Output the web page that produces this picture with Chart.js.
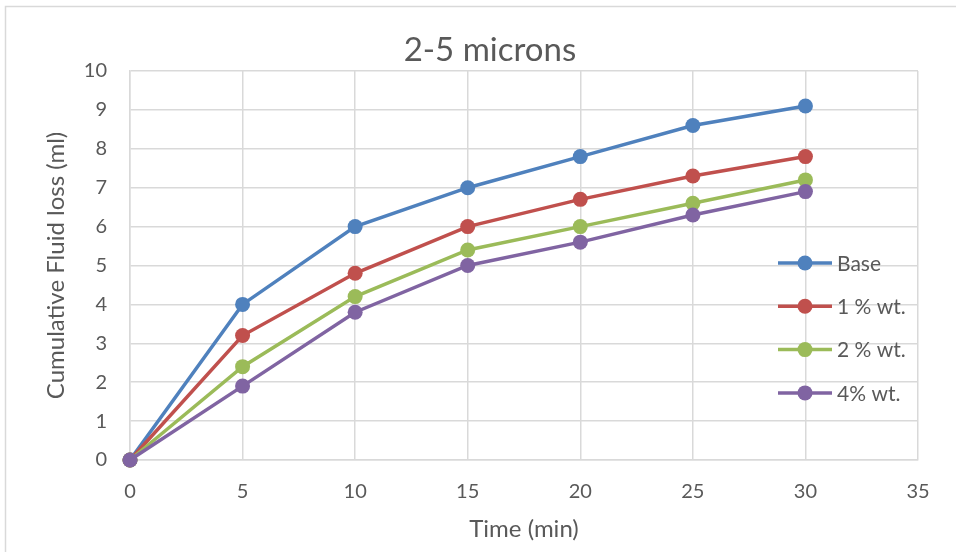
<!DOCTYPE html>
<html>
<head>
<meta charset="utf-8">
<script src="https://cdn.jsdelivr.net/npm/chart.js@4.4.1/dist/chart.umd.min.js"></script>
<style>
  html, body { margin: 0; padding: 0; background: #fff; }
</style>
</head>
<body>
<canvas id="myChart" width="956" height="552"></canvas>
<script>
// data
const times = [0, 5, 10, 15, 20, 25, 30];
const base = [0, 4, 6, 7, 7.8, 8.6, 9.1];
const wt1 = [0, 3.2, 4.8, 6, 6.7, 7.3, 7.8];
const wt2 = [0, 2.4, 4.2, 5.4, 6, 6.6, 7.2];
const wt4 = [0, 1.9, 3.8, 5, 5.6, 6.3, 6.9];
const seriesNames = ['Base', '1 % wt.', '2 % wt.', '4% wt.'];
const seriesColors = ['#4F81BD', '#C0504D', '#9BBB59', '#8064A2'];
const chartTitle = '2-5 microns';

const FONT = 'Lato';
const TEXT = '#595959';
const GRID = '#d9d9d9';

const toPoints = (ys) => ys.map((y, i) => ({ x: times[i], y: y }));

// white background + outer frame
const framePlugin = {
  id: 'frame',
  beforeDraw(chart) {
    const c = chart.ctx;
    c.save();
    c.fillStyle = '#fff';
    c.fillRect(0, 0, chart.width, chart.height);
    c.strokeStyle = GRID;
    c.lineWidth = 1.5;
    c.strokeRect(5.5, 6.5, chart.width + 20, chart.height + 20);
    c.restore();
  }
};

// title centred over the whole Excel chart box (wider than the crop)
const titlePlugin = {
  id: 'excelTitle',
  afterDraw(chart) {
    const c = chart.ctx;
    c.save();
    c.fillStyle = TEXT;
    c.font = '33px ' + FONT;
    c.textAlign = 'center';
    c.textBaseline = 'middle';
    c.fillText(chartTitle, chart.chartArea.left + 360, chart.chartArea.top - 21);
    c.restore();
  }
};

// legend drawn inside the plot, like Excel
const legendPlugin = {
  id: 'insideLegend',
  afterDraw(chart) {
    const c = chart.ctx;
    const area = chart.chartArea;
    const x0 = area.right - 140;
    const y0 = area.top + 192;
    const step = 43.3;
    c.save();
    chart.data.datasets.forEach((ds, i) => {
      const y = y0 + i * step;
      c.strokeStyle = ds.borderColor;
      c.lineWidth = 3.5;
      c.beginPath();
      c.moveTo(x0, y);
      c.lineTo(x0 + 54, y);
      c.stroke();
      c.fillStyle = ds.backgroundColor;
      c.beginPath();
      c.arc(x0 + 27, y, 7.5, 0, Math.PI * 2);
      c.fill();
      c.fillStyle = TEXT;
      c.font = '21px ' + FONT;
      c.textBaseline = 'middle';
      c.textAlign = 'left';
      c.fillText(ds.label, x0 + 59, y + 1);
    });
    c.restore();
  }
};

const allSeries = [base, wt1, wt2, wt4];

const ctx = document.getElementById('myChart').getContext('2d');
const myChart = new Chart(ctx, {
  type: 'line',
  data: {
    datasets: allSeries.map((s, i) => ({
      label: seriesNames[i],
      data: toPoints(s),
      borderColor: seriesColors[i],
      backgroundColor: seriesColors[i],
      borderWidth: 3.5,
      pointRadius: 7.5,
      pointHoverRadius: 7.5,
      pointBorderWidth: 0,
      tension: 0,
      clip: false,
      order: allSeries.length - 1 - i
    }))
  },
  options: {
    responsive: false,
    animation: false,
    layout: {
      padding: { top: 71, left: 40, right: 38, bottom: 0 }
    },
    scales: {
      x: {
        type: 'linear',
        min: 0,
        max: 35,
        ticks: { stepSize: 5, color: TEXT, font: { family: FONT, size: 20 }, padding: 20 },
        grid: { color: GRID, lineWidth: 1.5, drawTicks: false },
        border: { color: GRID, width: 1.5 },
        title: {
          display: true,
          text: 'Time (min)',
          color: TEXT,
          font: { family: FONT, size: 24 },
          padding: { top: 0, bottom: 8 }
        },
        afterFit(scale) { scale.height = 92; }
      },
      y: {
        min: 0,
        max: 10,
        ticks: { stepSize: 1, color: TEXT, font: { family: FONT, size: 20 }, padding: 23 },
        grid: { color: GRID, lineWidth: 1.5, drawTicks: false },
        border: { color: GRID, width: 1.5 },
        title: {
          display: true,
          text: 'Cumulative Fluid loss (ml)',
          color: TEXT,
          font: { family: FONT, size: 24 },
          padding: { top: 2, bottom: 0 }
        },
        afterFit(scale) { scale.width = 90; }
      }
    },
    plugins: {
      legend: { display: false },
      tooltip: { enabled: false },
      title: { display: false }
    }
  },
  plugins: [framePlugin, titlePlugin, legendPlugin]
});
</script>
</body>
</html>
